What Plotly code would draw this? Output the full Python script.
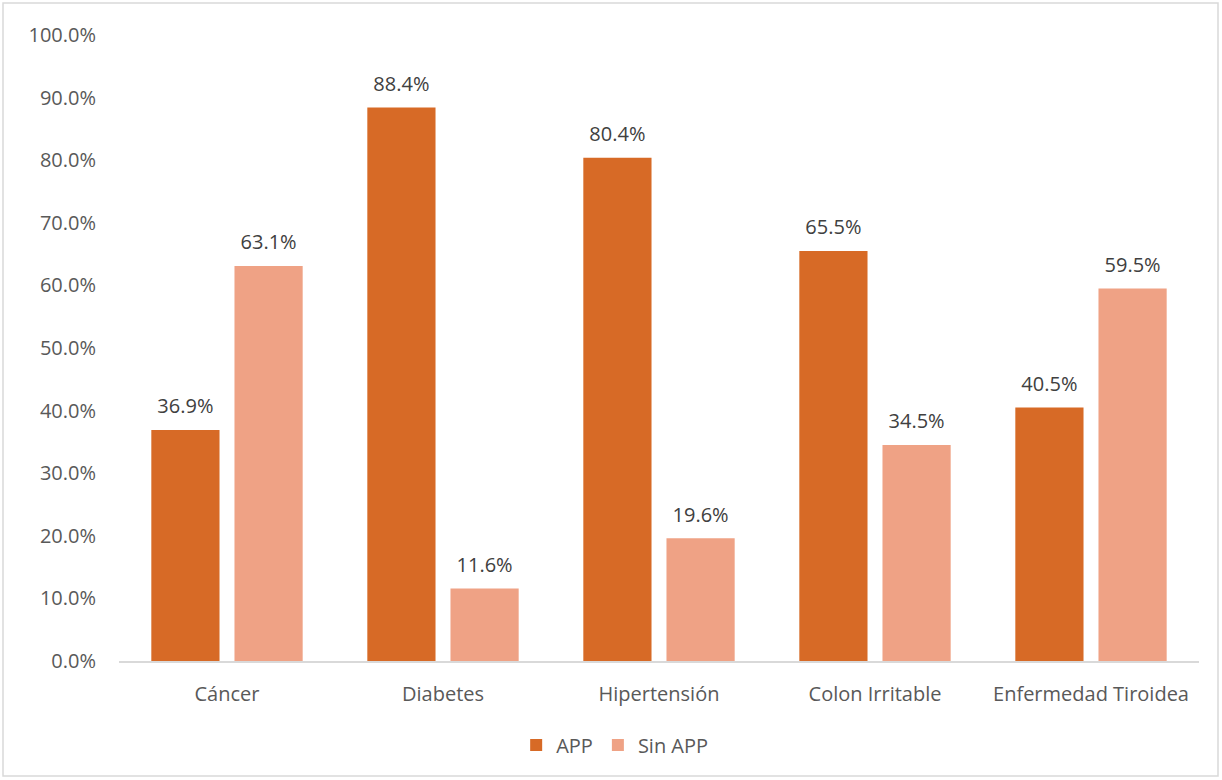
import plotly.graph_objects as go

categories = ["Cáncer", "Diabetes", "Hipertensión", "Colon Irritable", "Enfermedad Tiroidea"]
app = [36.9, 88.4, 80.4, 65.5, 40.5]
sin_app = [63.1, 11.6, 19.6, 34.5, 59.5]
y_ticks = [0, 10, 20, 30, 40, 50, 60, 70, 80, 90, 100]

FONT = "Open Sans"
FS = 20

fig = go.Figure()
for name, vals, color, grp in [("APP", app, "#d76a26", "a"), ("Sin APP", sin_app, "#efa285", "b")]:
    fig.add_trace(go.Bar(
        x=categories, y=vals, name=name, offsetgroup=grp,
        marker=dict(color=color, line=dict(width=0)),
    ))
for vals, grp in [(app, "a"), (sin_app, "b")]:
    fig.add_trace(go.Scatter(
        x=categories, y=vals, mode="markers+text", offsetgroup=grp,
        marker=dict(size=17, opacity=0),
        text=[f"{v:.1f}%" for v in vals], textposition="top center",
        textfont=dict(size=FS, color="#404040", family=FONT),
        showlegend=False, cliponaxis=False, hoverinfo="skip",
    ))

fig.update_layout(
    width=1222, height=780,
    margin=dict(l=119, r=23, t=35, b=119),
    paper_bgcolor="white", plot_bgcolor="white",
    barmode="group", bargap=0.23, bargroupgap=0.18, scattermode="group",
    font=dict(family=FONT, size=FS, color="#595959"),
    showlegend=True,
    legend=dict(orientation="h", x=0.503, xanchor="center", xref="container",
                y=0.045, yanchor="middle", yref="container",
                font=dict(size=FS, color="#595959"), itemwidth=30, traceorder="normal"),
    shapes=[dict(type="rect", xref="paper", yref="paper",
                 x0=-0.1074, x1=1.0176, y0=-0.1837, y1=1.0511,
                 line=dict(color="#d9d9d9", width=1.5), fillcolor="rgba(0,0,0,0)", layer="below")],
)
fig.update_xaxes(showline=True, linecolor="#d9d9d9", linewidth=1.5, showgrid=False,
                 ticks="", ticklabelstandoff=14, tickfont=dict(size=FS, color="#595959"))
fig.update_yaxes(range=[0, 100], tickvals=y_ticks, ticktext=[f"{v:.1f}%" for v in y_ticks],
                 showgrid=False, zeroline=False, showline=False, ticks="",
                 ticklabelstandoff=22, tickfont=dict(size=FS, color="#595959"))

fig.write_html("out.html")
